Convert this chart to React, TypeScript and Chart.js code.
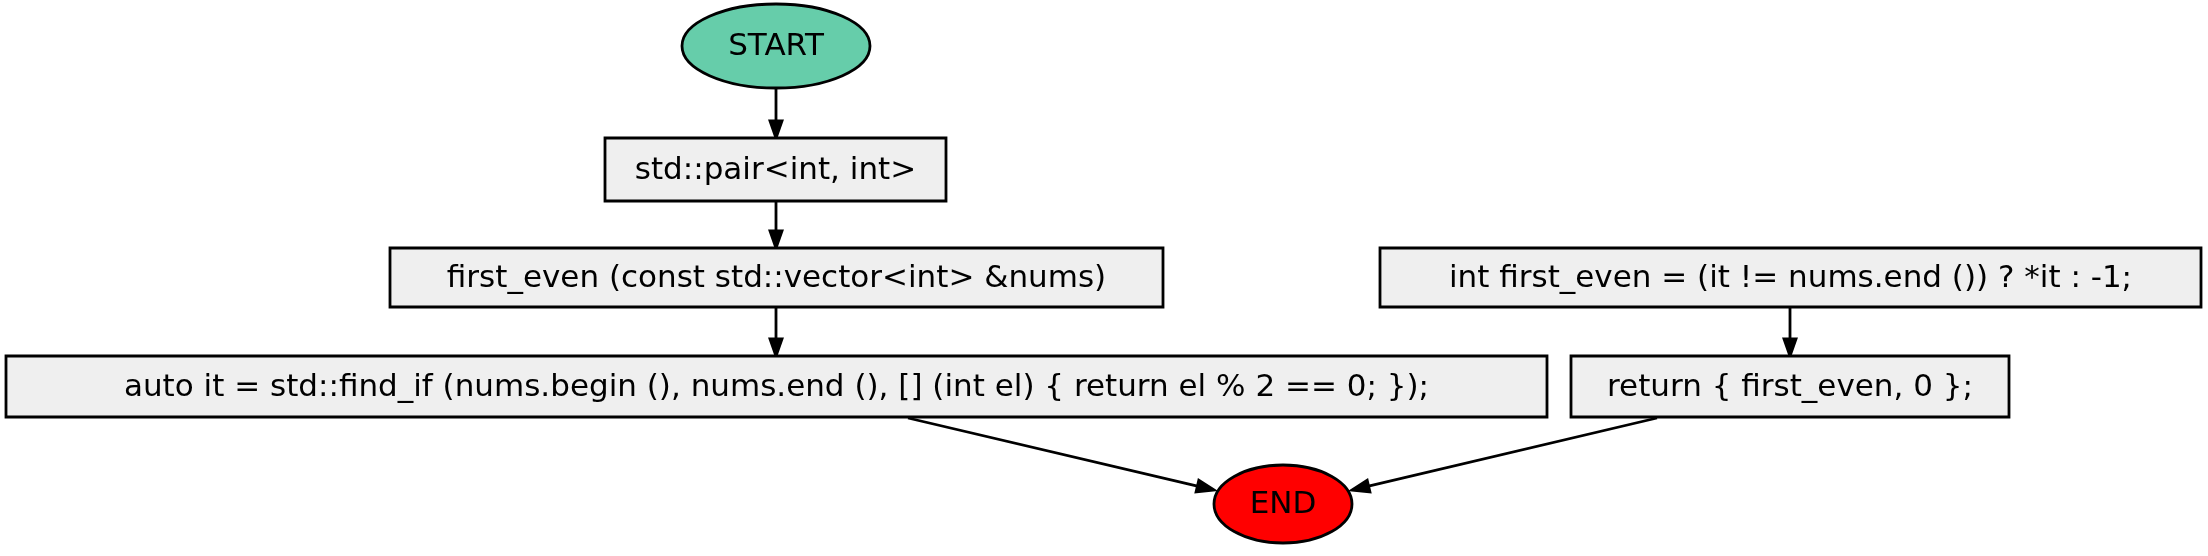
import React, { useEffect, useRef } from "react";
import { Chart, registerables } from "chart.js";

Chart.register(...registerables);

// flowchart nodes (layout units = pixels of the 2208x556 page)
const nodeLabels = [
  "START",
  "std::pair<int, int>",
  "first_even (const std::vector<int> &nums)",
  "auto it = std::find_if (nums.begin (), nums.end (), [] (int el) { return el % 2 == 0; });",
  "int first_even = (it != nums.end ()) ? *it : -1;",
  "return { first_even, 0 };",
  "END",
];
const nodeShapes = ["ellipse", "box", "box", "box", "box", "box", "ellipse"];
const nodeX = [776, 775.5, 776.5, 776.5, 1790.5, 1790, 1283];
const nodeY = [46, 169.5, 277.5, 386.5, 277.5, 386.5, 504];
const nodeW = [188, 341, 773, 1541, 821, 438, 138];
const nodeH = [84, 63, 59, 61, 59, 61, 78];
const nodeFill = ["#66CDAA", "#EFEFEF", "#EFEFEF", "#EFEFEF", "#EFEFEF", "#EFEFEF", "#FF0000"];

// edges: [from x, from y, to x, to y]
const edgeFrom = [[776, 88], [776, 201], [776, 307], [1790, 307], [908, 418], [1657, 418]];
const edgeTo = [[776, 138], [776, 248], [776, 356], [1790, 356], [1214, 490], [1352, 490]];

const flowPlugin = {
  id: "flow",
  afterDatasetsDraw(chart: any) {
    const ctx = chart.ctx as CanvasRenderingContext2D;
    const xs = chart.scales.x;
    const ys = chart.scales.y;
    ctx.save();
    ctx.strokeStyle = "#000";
    ctx.fillStyle = "#000";
    ctx.lineWidth = 2.8;
    edgeFrom.forEach((f, i) => {
      const x1 = xs.getPixelForValue(f[0]);
      const y1 = ys.getPixelForValue(f[1]);
      const x2 = xs.getPixelForValue(edgeTo[i][0]);
      const y2 = ys.getPixelForValue(edgeTo[i][1]);
      const a = Math.atan2(y2 - y1, x2 - x1);
      const L = 17;
      const bx = x2 - L * Math.cos(a);
      const by = y2 - L * Math.sin(a);
      ctx.beginPath();
      ctx.moveTo(x1, y1);
      ctx.lineTo(bx, by);
      ctx.stroke();
      ctx.beginPath();
      ctx.moveTo(x2, y2);
      ctx.lineTo(bx + 6 * Math.sin(a), by - 6 * Math.cos(a));
      ctx.lineTo(bx - 6 * Math.sin(a), by + 6 * Math.cos(a));
      ctx.closePath();
      ctx.fill();
      ctx.stroke();
    });
    nodeLabels.forEach((label, i) => {
      const cx = xs.getPixelForValue(nodeX[i]);
      const cy = ys.getPixelForValue(nodeY[i]);
      const w = xs.getPixelForValue(nodeX[i] + nodeW[i] / 2) - cx;
      const h = ys.getPixelForValue(nodeY[i] + nodeH[i] / 2) - cy;
      ctx.beginPath();
      if (nodeShapes[i] === "ellipse") {
        ctx.ellipse(cx, cy, Math.abs(w), Math.abs(h), 0, 0, Math.PI * 2);
      } else {
        ctx.rect(cx - Math.abs(w), cy - Math.abs(h), 2 * Math.abs(w), 2 * Math.abs(h));
      }
      ctx.fillStyle = nodeFill[i];
      ctx.fill();
      ctx.lineWidth = 2.8;
      ctx.stroke();
      ctx.fillStyle = "#000";
      ctx.font = "31px 'DejaVu Sans'";
      ctx.textAlign = "center";
      ctx.textBaseline = "middle";
      ctx.fillText(label, cx, cy + 1);
    });
    ctx.restore();
  },
};

const App: React.FC = () => {
  const canvasRef = useRef<HTMLCanvasElement | null>(null);

  useEffect(() => {
    const ctx = canvasRef.current?.getContext("2d");
    if (!ctx) return;
    const chart = new Chart(ctx, {
      type: "scatter",
      data: {
        datasets: [
          {
            data: nodeX.map((x, i) => ({ x, y: nodeY[i] })),
            pointRadius: 0,
          },
        ],
      },
      options: {
        animation: false,
        responsive: false,
        layout: { padding: 0 },
        plugins: { legend: { display: false }, tooltip: { enabled: false } },
        scales: {
          x: { type: "linear", min: 0, max: 2208, display: false },
          y: { type: "linear", min: 0, max: 556, reverse: true, display: false },
        },
      },
      plugins: [flowPlugin],
    });
    return () => chart.destroy();
  }, []);

  return (
    <div style={{ position: "fixed", left: 0, top: 0, width: 2208, height: 556, background: "#fff" }}>
      <canvas ref={canvasRef} width={2208} height={556} />
    </div>
  );
};

export default App;
